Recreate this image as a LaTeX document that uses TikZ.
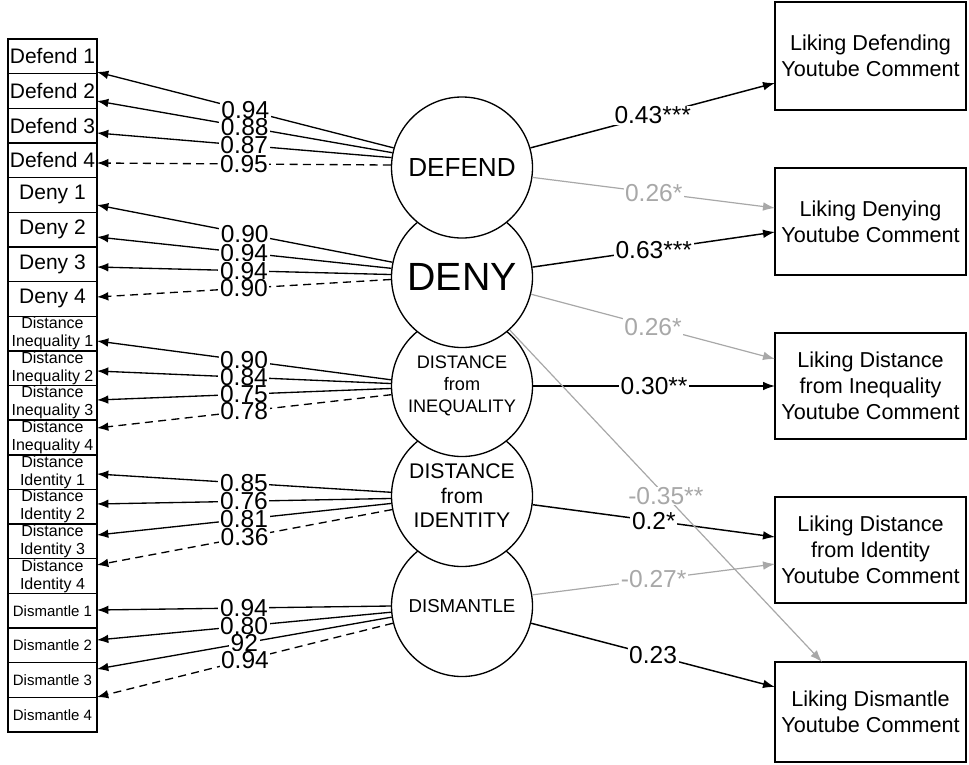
\documentclass[tikz,border=0pt]{standalone}
\usepackage{fontspec}
\setmainfont{Liberation Sans}
\usetikzlibrary{arrows.meta,calc}
\definecolor{lg}{RGB}{168,168,168}
\newcommand{\myfs}[2]{\fontsize{#1pt}{#2pt}\selectfont}
\begin{document}
\begin{tikzpicture}[x=0.75pt,y=-0.75pt,
  ibox/.style={draw,line width=1pt,minimum width=66.75pt,minimum height=26pt,inner sep=0pt,outer sep=0pt,align=center},
  ibig/.style={ibox,font=\myfs{15.75}{16}},
  itwo/.style={ibox,font=\myfs{12}{13.5}},
  ism/.style={ibox,font=\myfs{11.25}{12}},
  lat/.style={circle,draw,fill=white,line width=1pt,minimum size=105.75pt,inner sep=0pt,align=center},
  obox/.style={draw,line width=1pt,minimum width=143.25pt,inner sep=0pt,outer sep=0pt,align=center,font=\myfs{16.2}{19.5}},
  ld/.style={line width=1pt,-{Latex[length=8.5pt,width=6.5pt]}},
  ldd/.style={ld,dash pattern=on 6pt off 4pt},
  lab/.style={fill=white,inner xsep=1.2pt,inner ysep=0.5pt,font=\myfs{18.4}{18.4}},
  glab/.style={lab,text=lg},
  bk/.style={line width=1.1pt,-{Latex[length=9pt,width=6.5pt]}},
  gr/.style={bk,draw=lg,line width=0.9pt}
]
\useasboundingbox (0,0) rectangle (969,764);

% indicator boxes
\node[ibig] (b1) at (52.5,56.3) {Defend 1};
\node[ibig] (b2) at (52.5,91.0) {Defend 2};
\node[ibig] (b3) at (52.5,125.6) {Defend 3};
\node[ibig] (b4) at (52.5,160.3) {Defend 4};
\node[ibig] (b5) at (52.5,194.9) {Deny 1};
\node[ibig] (b6) at (52.5,229.6) {Deny 2};
\node[ibig] (b7) at (52.5,264.2) {Deny 3};
\node[ibig] (b8) at (52.5,298.9) {Deny 4};
\node[itwo] (b9) at (52.5,333.5) {Distance\\Inequality 1};
\node[itwo] (b10) at (52.5,368.2) {Distance\\Inequality 2};
\node[itwo] (b11) at (52.5,402.8) {Distance\\Inequality 3};
\node[itwo] (b12) at (52.5,437.5) {Distance\\Inequality 4};
\node[itwo] (b13) at (52.5,472.1) {Distance\\Identity 1};
\node[itwo] (b14) at (52.5,506.8) {Distance\\Identity 2};
\node[itwo] (b15) at (52.5,541.4) {Distance\\Identity 3};
\node[itwo] (b16) at (52.5,576.1) {Distance\\Identity 4};
\node[ism] (b17) at (52.5,610.7) {Dismantle 1};
\node[ism] (b18) at (52.5,645.4) {Dismantle 2};
\node[ism] (b19) at (52.5,680.0) {Dismantle 3};
\node[ism] (b20) at (52.5,714.7) {Dismantle 4};

% latent variables (lowest first so upper ones overlap)
\node[lat,font=\myfs{14}{16}] (c5) at (462,606) {DISMANTLE};
\node[lat,font=\myfs{15.9}{18.4}] (c4) at (462,496) {DISTANCE\\from\\IDENTITY};
\node[lat,font=\myfs{13.6}{16.5}] (c3) at (462,386) {DISTANCE\\from\\INEQUALITY};
\node[lat,font=\myfs{29.5}{30}] (c2) at (462,277) {DENY};
\node[lat,font=\myfs{19.6}{20}] (c1) at (462,167.5) {DEFEND};

% outcome boxes
\node[obox,minimum height=81pt] (r1) at (870.5,56) {Liking Defending\\Youtube Comment};
\node[obox,minimum height=80.25pt] (r2) at (870.5,221.5) {Liking Denying\\Youtube Comment};
\node[obox,minimum height=79.5pt] (r3) at (870.5,386) {Liking Distance\\from Inequality\\Youtube Comment};
\node[obox,minimum height=79.5pt] (r4) at (870.5,550) {Liking Distance\\from Identity\\Youtube Comment};
\node[obox,minimum height=75pt] (r5) at (870.5,712) {Liking Dismantle\\Youtube Comment};

% loadings DEFEND
\draw[ld] (c1.164) -- node[lab]{0.94} ($(b1.east)+(0,15.7)$);
\draw[ld] (c1.168) -- node[lab]{0.88} ($(b2.east)+(0,10)$);
\draw[ld] (c1.172) -- node[lab]{0.87} ($(b3.east)+(0,7.4)$);
\draw[ldd] (c1.178) -- node[lab]{0.95} ($(b4.east)+(0,2.7)$);
% loadings DENY
\draw[ld] (c2.168) -- node[lab]{0.90} ($(b5.east)+(0,10.1)$);
\draw[ld] (c2.173) -- node[lab]{0.94} ($(b6.east)+(0,7.4)$);
\draw[ld] (c2.178) -- node[lab]{0.94} ($(b7.east)+(0,2.8)$);
\draw[ldd] (c2.182) -- node[lab]{0.90} ($(b8.east)+(0,-1.9)$);
% loadings INEQUALITY
\draw[ld] (c3.175) -- node[lab]{0.90} ($(b9.east)+(0,7.5)$);
\draw[ld] (c3.178) -- node[lab]{0.84} ($(b10.east)+(0,2.8)$);
\draw[ld] (c3.182) -- node[lab]{0.75} ($(b11.east)+(0,-2.8)$);
\draw[ldd] (c3.187) -- node[lab]{0.78} ($(b12.east)+(0,-9.5)$);
% loadings IDENTITY
\draw[ld] (c4.177) -- node[lab]{0.85} ($(b13.east)+(0,1.9)$);
\draw[ld] (c4.182) -- node[lab]{0.76} ($(b14.east)+(0,-2.8)$);
\draw[ld] (c4.186) -- node[lab]{0.81} ($(b15.east)+(0,-6.4)$);
\draw[ldd] (c4.191) -- node[lab]{0.36} ($(b16.east)+(0,-11.1)$);
% loadings DISMANTLE
\draw[ld] (c5.180) -- node[lab]{0.94} ($(b17.east)+(0,-0.7)$);
\draw[ld] (c5.185) -- node[lab]{0.80} ($(b18.east)+(0,-5.4)$);
\draw[ld] (c5.189) -- node[lab]{92} ($(b19.east)+(0,-11)$);
\draw[ldd] (c5.194) -- node[lab]{0.94} ($(b20.east)+(0,-17.7)$);

% structural paths
\draw[bk] (c1.16) -- node[lab]{0.43***} ($(r1.west)+(0,27)$);
\draw[gr] (c1.-8) -- node[glab]{0.26*} ($(r2.west)+(0,-13.5)$);
\draw[bk] (c2.8) -- node[lab]{0.63***} ($(r2.west)+(0,10.5)$);
\draw[gr] (c2.-14) -- node[glab]{0.26*} ($(r3.west)+(0,-27)$);
\draw[bk] (c3.0) -- node[lab]{0.30**} (r3.west);
\draw[bk] (c4.-7) -- node[lab]{0.2*} ($(r4.west)+(0,-13)$);
\draw[gr] (c5.9) -- node[glab]{-0.27*} ($(r4.west)+(0,14)$);
\draw[bk] (c5.-14) -- node[lab]{0.23} ($(r5.west)+(0,-25)$);
\draw[gr] (c2.-48) -- node[glab]{-0.35**} ($(r5.north west)+(47,0)$);
\end{tikzpicture}
\end{document}
